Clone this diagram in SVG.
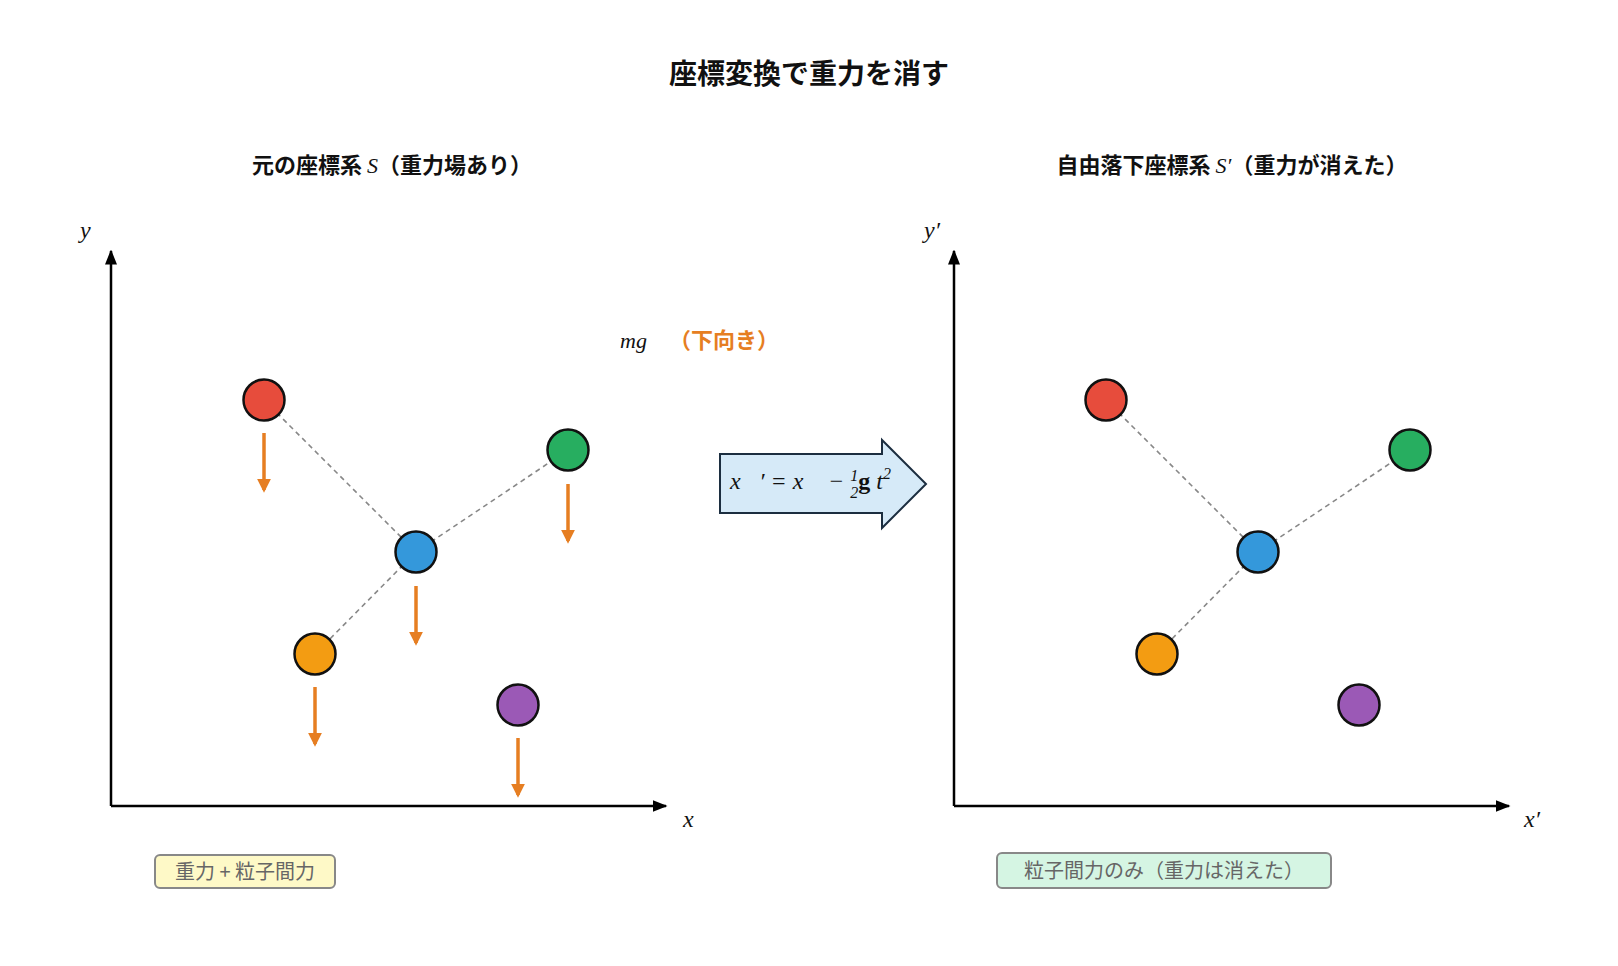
<svg xmlns="http://www.w3.org/2000/svg" width="1618" height="966" viewBox="0 0 1618 966">
<defs>
<style>
.t{font-family:"Noto Sans CJK JP","Noto Sans",sans-serif;font-weight:bold;fill:#111}
.m{font-family:"Liberation Serif","DejaVu Serif",serif;font-style:italic;fill:#111}
.ax{stroke:#000;stroke-width:2.5;fill:none}
.p{stroke:#111;stroke-width:2.5}
.d{stroke:#888;stroke-width:1.6;stroke-dasharray:5,4;fill:none}
.g{stroke:#e67e22;stroke-width:3.5;fill:none}
.lb{font-family:"Noto Sans CJK JP","Noto Sans",sans-serif;font-size:20px;fill:#666}
</style>
<marker id="ah" viewBox="0 0 10 10" refX="9" refY="5" markerWidth="6" markerHeight="6" orient="auto"><path d="M0,1 L10,5 L0,9 Z" fill="#000"/></marker>
<marker id="og" viewBox="0 0 10 10" refX="8" refY="5" markerWidth="4" markerHeight="4" orient="auto"><path d="M0,0 L10,5 L0,10 Z" fill="#e67e22"/></marker>
</defs>
<rect width="1618" height="966" fill="#fff"/>
<text class="t" x="809" y="84" font-size="28" text-anchor="middle">座標変換で重力を消す</text>
<text class="t" x="392" y="173" font-size="22" text-anchor="middle">元の座標系 <tspan class="m" font-weight="normal">S</tspan>（重力場あり）</text>
<text class="t" x="1232" y="173" font-size="22" text-anchor="middle">自由落下座標系 <tspan class="m" font-weight="normal">S′</tspan>（重力が消えた）</text>
<g id="connectors">
<path class="ax" d="M111,806 V251" marker-end="url(#ah)"/>
<path class="ax" d="M111,806 H666" marker-end="url(#ah)"/>
<path class="ax" d="M954,806 V251" marker-end="url(#ah)"/>
<path class="ax" d="M954,806 H1509" marker-end="url(#ah)"/>
<path class="d" d="M264,400 L416,552 M416,552 L568,450 M416,552 L315,654"/>
<path class="d" d="M1106,400 L1258,552 M1258,552 L1410,450 M1258,552 L1157,654"/>
<path class="g" d="M264,433 V490" marker-end="url(#og)"/>
<path class="g" d="M568,484 V541" marker-end="url(#og)"/>
<path class="g" d="M416,586 V643" marker-end="url(#og)"/>
<path class="g" d="M315,687 V744" marker-end="url(#og)"/>
<path class="g" d="M518,738 V795" marker-end="url(#og)"/>
</g>
<text class="m" x="80" y="238" font-size="24">y</text>
<text class="m" x="683" y="827" font-size="24">x</text>
<text class="m" x="924" y="238" font-size="24">y′</text>
<text class="m" x="1524" y="827" font-size="24">x′</text>
<g id="left-nodes">
<circle id="l-red" class="p" cx="264" cy="400" r="20.5" fill="#e74c3c"/>
<circle id="l-green" class="p" cx="568" cy="450" r="20.5" fill="#27ae60"/>
<circle id="l-blue" class="p" cx="416" cy="552" r="20.5" fill="#3498db"/>
<circle id="l-orange" class="p" cx="315" cy="654" r="20.5" fill="#f39c12"/>
<circle id="l-purple" class="p" cx="518" cy="705" r="20.5" fill="#9b59b6"/>
</g>
<g id="right-nodes">
<circle id="r-red" class="p" cx="1106" cy="400" r="20.5" fill="#e74c3c"/>
<circle id="r-green" class="p" cx="1410" cy="450" r="20.5" fill="#27ae60"/>
<circle id="r-blue" class="p" cx="1258" cy="552" r="20.5" fill="#3498db"/>
<circle id="r-orange" class="p" cx="1157" cy="654" r="20.5" fill="#f39c12"/>
<circle id="r-purple" class="p" cx="1359" cy="705" r="20.5" fill="#9b59b6"/>
</g>
<text x="620" y="348" font-size="22" fill="#e67e22"><tspan class="m" fill="#e67e22">m</tspan><tspan class="m" fill="#e67e22">g⃗</tspan><tspan font-family="Noto Sans CJK JP,sans-serif" font-weight="bold"> （下向き）</tspan></text>
<g id="transform">
<path d="M720,454 H882 V440 L926,484 L882,528 V513 H720 Z" fill="#d6eaf8" stroke="#1c2e40" stroke-width="2"/>
<text class="m" x="730" y="489" font-size="24">x⃗′ = x⃗ − <tspan font-size="16" dy="-8">1</tspan><tspan font-size="16" dx="-8" dy="17">2</tspan><tspan dy="-9" font-style="normal" font-weight="bold">g</tspan> t<tspan font-size="16" dy="-10">2</tspan></text>
</g>
<g id="label-left">
<rect x="155" y="855" width="180" height="33" rx="5" fill="#fef9c7" stroke="#888" stroke-width="2"/>
<text class="lb" x="245" y="879" text-anchor="middle">重力 + 粒子間力</text>
</g>
<g id="label-right">
<rect x="997" y="853" width="334" height="35" rx="5" fill="#d5f5e3" stroke="#888" stroke-width="2"/>
<text class="lb" x="1164" y="878" text-anchor="middle">粒子間力のみ（重力は消えた）</text>
</g>
</svg>
